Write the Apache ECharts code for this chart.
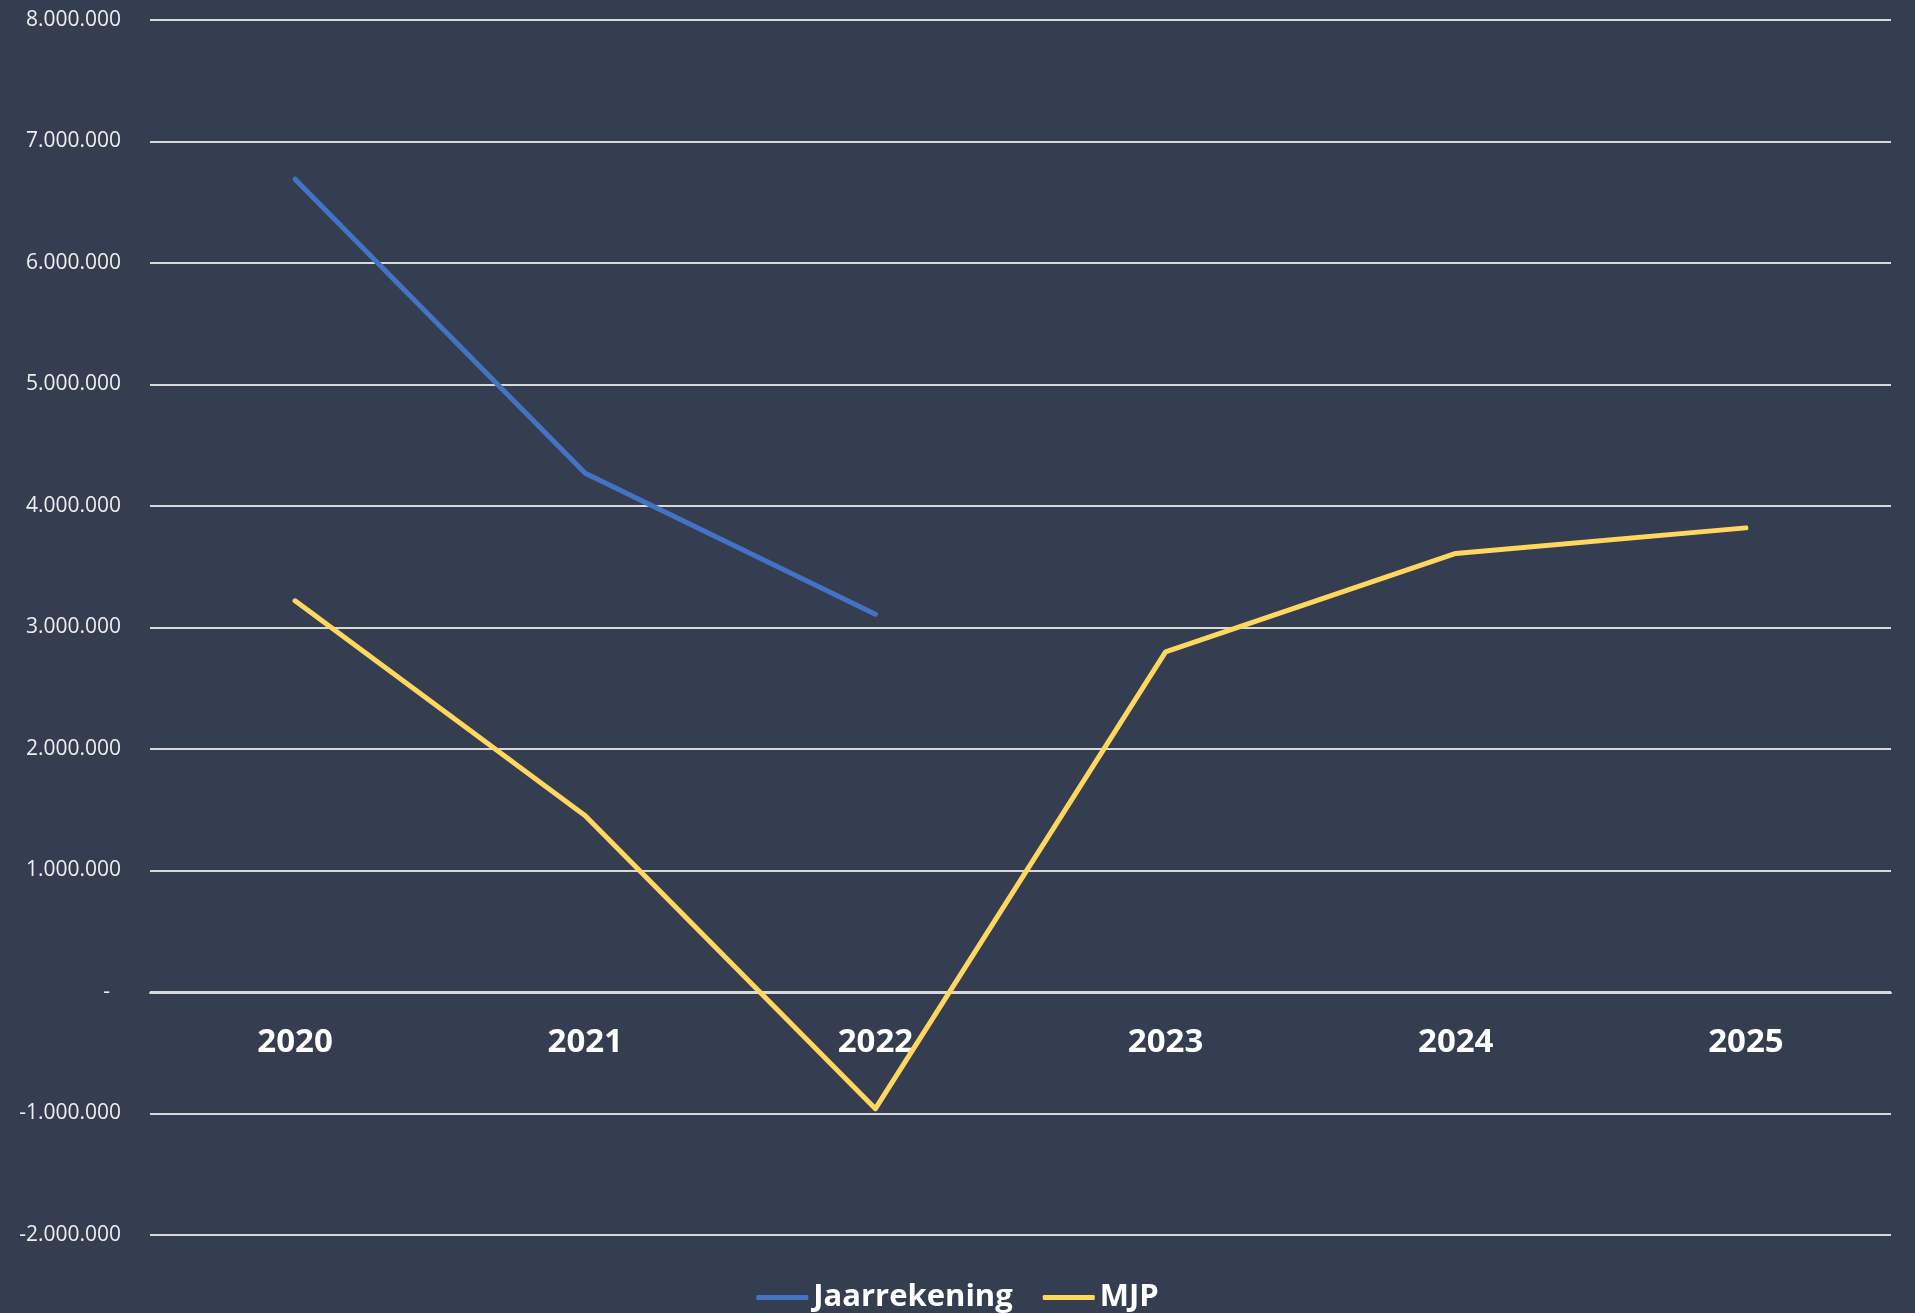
<!DOCTYPE html>
<html>
<head>
<meta charset="utf-8">
<script src="https://cdn.jsdelivr.net/npm/echarts@6/dist/echarts.min.js"></script>
<style>
  html, body { margin: 0; padding: 0; background: #343e50; }
  #chart { width: 1915px; height: 1313px; }
</style>
</head>
<body>
<div id="chart"></div>
<script>
// jaren op de x-as
const years = ['2020', '2021', '2022', '2023', '2024', '2025']
// jaarrekening (alleen t/m 2022)
const jaarrekening = [6690000, 4270000, 3110000, null, null, null]
// meerjarenplan
const mjp = [3220000, 1450000, -960000, 2800000, 3610000, 3820000]

const font = '"Open Sans", "Noto Sans", sans-serif'

// 1234567 -> 1.234.567, 0 -> '-'
function fmt(v) {
  if (v === 0) return '-\u00a0\u00a0'
  const s = Math.abs(v).toString().replace(/\B(?=(\d{3})+(?!\d))/g, '.')
  return (v < 0 ? '-' : '') + s
}

const chart = echarts.init(document.getElementById('chart'))

const option = {
  backgroundColor: '#343e50',
  animation: false,
  grid: {
    left: 150,
    right: 24,
    top: 20,
    bottom: 78,
    containLabel: false,
  },
  legend: {
    bottom: -5,
    left: 'center',
    icon: 'roundRect',
    itemWidth: 52,
    itemHeight: 5,
    itemGap: 30,
    textStyle: {
      color: '#ffffff',
      fontFamily: font,
      fontWeight: 'bold',
      fontSize: 31,
    },
    data: ['Jaarrekening', 'MJP'],
  },
  xAxis: {
    type: 'category',
    data: years,
    boundaryGap: true,
    position: 'bottom',
    // as ligt op de nul-lijn (2 miljoen boven de onderkant)
    offset: -242,
    axisLine: {
      show: true,
      onZero: false,
      lineStyle: { color: '#d9d9d9', width: 2 },
    },
    axisTick: { show: false },
    axisLabel: {
      color: '#ffffff',
      fontFamily: font,
      fontWeight: 'bold',
      fontSize: 33,
      margin: 33,
    },
  },
  yAxis: {
    type: 'value',
    min: -2000000,
    max: 8000000,
    interval: 1000000,
    axisLine: { show: false },
    axisTick: { show: false },
    splitLine: {
      lineStyle: { color: '#d9d9d9', width: 2 },
    },
    axisLabel: {
      color: '#eeeeee',
      fontFamily: font,
      fontSize: 21,
      margin: 29,
      formatter: fmt,
    },
  },
  series: [
    {
      name: 'Jaarrekening',
      type: 'line',
      data: jaarrekening,
      symbol: 'none',
      lineStyle: { color: '#4472c4', width: 5, cap: 'round', join: 'round' },
      itemStyle: { color: '#4472c4' },
    },
    {
      name: 'MJP',
      type: 'line',
      data: mjp,
      symbol: 'none',
      lineStyle: { color: '#ffd75e', width: 5, cap: 'round', join: 'round' },
      itemStyle: { color: '#ffd75e' },
    },
  ],
}

chart.setOption(option)

window.addEventListener('resize', () => {
  chart.resize()
})
</script>
</body>
</html>
